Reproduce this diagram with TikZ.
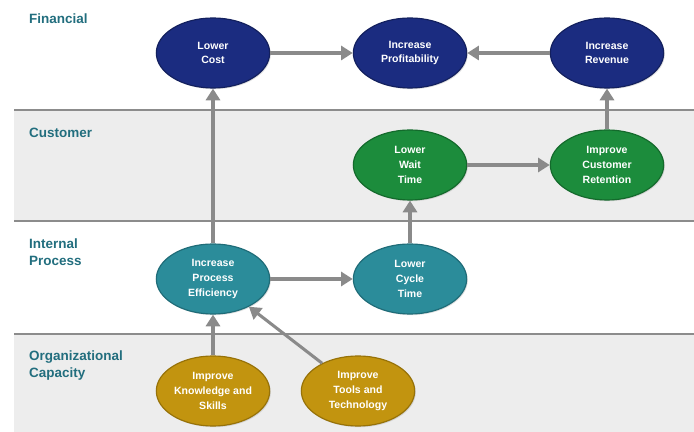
\documentclass[tikz,border=0pt]{standalone}
\usepackage{fontspec}
\setmainfont{Liberation Sans}
\usetikzlibrary{shapes.geometric,arrows.meta,shadows}

\definecolor{navyfill}{HTML}{1B2C80}
\definecolor{navyline}{HTML}{13205E}
\definecolor{greenfill}{HTML}{1C8C3C}
\definecolor{greenline}{HTML}{146A2C}
\definecolor{tealfill}{HTML}{2B8C9A}
\definecolor{tealline}{HTML}{1F6C78}
\definecolor{goldfill}{HTML}{C2940F}
\definecolor{goldline}{HTML}{977208}
\definecolor{bandgray}{HTML}{EDEDED}
\definecolor{ruleline}{HTML}{8C8C8C}
\definecolor{arrowgray}{HTML}{8A8A8A}
\definecolor{labeltext}{HTML}{226E7E}

\tikzset{
  goal/.style={ellipse,minimum width=3.4cm,minimum height=2.1cm,inner sep=0pt,
    line width=1pt,text=white,align=center,font=\bfseries\fontsize{9}{12.5}\selectfont,
    drop shadow={opacity=0.25,shadow xshift=1pt,shadow yshift=-1pt}},
  fin/.style={goal,fill=navyfill,draw=navyline},
  cust/.style={goal,fill=greenfill,draw=greenline},
  proc/.style={goal,fill=tealfill,draw=tealline},
  capa/.style={goal,fill=goldfill,draw=goldline},
  band/.style={anchor=north west,align=left,text=labeltext,
    font=\bfseries\fontsize{11.5}{14}\selectfont,inner sep=0pt},
  link/.style={draw=arrowgray,line width=2.6pt,-{Triangle[length=10pt,width=12pt]}}
}

\begin{document}
\begin{tikzpicture}[x=0.03cm,y=-0.03cm]
\useasboundingbox (0,0) rectangle (694,432);
% Bands
\fill[bandgray] (14,110) rectangle (694,221);
\fill[bandgray] (14,334) rectangle (694,432);
\draw[ruleline,line width=1pt] (14,110) -- (694,110);
\draw[ruleline,line width=1pt] (14,221) -- (694,221);
\draw[ruleline,line width=1pt] (14,334) -- (694,334);
\node[band] (lfin) at (29,14) {Financial};
\node[band] (lcust) at (29,128) {Customer};
\node[band] (lproc) at (29,239) {Internal\\Process};
\node[band] (lcapa) at (29,351) {Organizational\\Capacity};
% Objectives
\node[fin] (cost) at (213,53) {Lower\\Cost};
\node[fin] (profit) at (410,53) {Increase\\Profitability};
\node[fin] (revenue) at (607,53) {Increase\\Revenue};
\node[cust] (wait) at (410,165) {Lower\\Wait\\Time};
\node[cust] (retain) at (607,165) {Improve\\Customer\\Retention};
\node[proc] (effic) at (213,279) {Increase\\Process\\Efficiency};
\node[proc] (cycle) at (410,279) {Lower\\Cycle\\Time};
\node[capa] (skills) at (213,391) {Improve\\Knowledge and\\Skills};
\node[capa] (tools) at (358,391) {Improve\\Tools and\\Technology};
% Links
\draw[link] (cost) -- (profit);
\draw[link] (revenue) -- (profit);
\draw[link] (wait) -- (retain);
\draw[link] (retain) -- (revenue);
\draw[link] (cycle) -- (wait);
\draw[link] (effic) -- (cost);
\draw[link] (effic) -- (cycle);
\draw[link] (skills) -- (effic);
\draw[link] (tools) -- (effic);
\end{tikzpicture}
\end{document}
